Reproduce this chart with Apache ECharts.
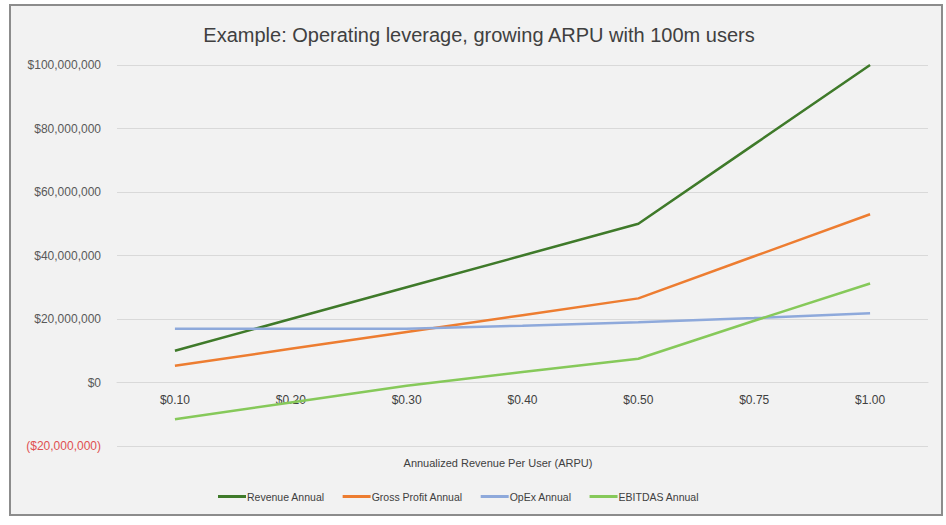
<!DOCTYPE html>
<html lang="en">
<head>
    <meta charset="UTF-8">
    <title>Operating leverage</title>
    <script type="text/javascript" src="https://cdn.jsdelivr.net/npm/echarts@6/dist/echarts.min.js"></script>
    <style>
        html, body { margin: 0; padding: 0; background: #fff; }
        #chart { width: 946px; height: 525px; }
    </style>
</head>
<body>
<div id="chart"></div>
<script>
    // ARPU categories on the x axis
    var arpu = ['$0.10', '$0.20', '$0.30', '$0.40', '$0.50', '$0.75', '$1.00'];
    // annual values in dollars
    var revenue = [10000000, 20000000, 30000000, 40000000, 50000000, 75000000, 100000000];
    var grossProfit = [5300000, 10600000, 15900000, 21200000, 26500000, 39750000, 53000000];
    var opex = [16900000, 16900000, 16900000, 17900000, 19000000, 20300000, 21800000];
    var ebitdas = [-11600000, -6300000, -1000000, 3300000, 7500000, 19450000, 31200000];
    var seriesNames = ['Revenue Annual', 'Gross Profit Annual', 'OpEx Annual', 'EBITDAS Annual'];

    var font = 'Liberation Sans';

    function money(v) {
        var s = '$' + Math.abs(v).toString().replace(/\B(?=(\d{3})+(?!\d))/g, ',');
        return v < 0 ? '(' + s + ')' : s;
    }

    var chart = echarts.init(document.getElementById('chart'), null, {renderer: 'svg'});
    chart.setOption({
        backgroundColor: '#fff',
        animation: false,
        graphic: [{
            type: 'rect',
            z: -10,
            shape: {x: 10, y: 5, width: 932, height: 510},
            style: {fill: '#f2f2f2', stroke: '#8c8c8c', lineWidth: 2}
        }],
        title: [{
            text: 'Example: Operating leverage, growing ARPU with 100m users',
            left: 474,
            top: 20,
            textAlign: 'center',
            textStyle: {fontFamily: font, fontSize: 20, fontWeight: 'normal', color: '#404040'}
        }, {
            text: 'Annualized Revenue Per User (ARPU)',
            left: 493,
            top: 452,
            textAlign: 'center',
            textStyle: {fontFamily: font, fontSize: 11, fontWeight: 'normal', color: '#404040'}
        }],
        legend: {
            data: seriesNames,
            left: 213,
            top: 486,
            icon: 'rect',
            itemWidth: 28,
            itemHeight: 3,
            itemGap: 18,
            textStyle: {fontFamily: font, fontSize: 10.5, color: '#404040', padding: [0, 0, 0, -4]}
        },
        grid: {left: 117, right: 18, top: 65, bottom: 79, containLabel: false},
        xAxis: {
            type: 'category',
            data: arpu,
            boundaryGap: true,
            // category labels sit just under the $0 line
            offset: -63.5,
            axisLine: {onZero: false, lineStyle: {color: '#d9d9d9'}},
            axisTick: {show: false},
            axisLabel: {fontFamily: font, fontSize: 12, color: '#404040', margin: 11}
        },
        yAxis: {
            type: 'value',
            min: -20000000,
            max: 100000000,
            interval: 20000000,
            axisLine: {show: false},
            axisTick: {show: false},
            splitLine: {lineStyle: {color: '#d9d9d9', width: 1}},
            axisLabel: {
                fontFamily: font,
                fontSize: 12,
                margin: 16,
                color: function (v) { return v < 0 ? '#e05050' : '#595959'; },
                formatter: money
            }
        },
        series: [
            {name: seriesNames[0], type: 'line', data: revenue, symbol: 'none', lineStyle: {width: 2.5, color: '#3f7a2a'}, itemStyle: {color: '#3f7a2a'}},
            {name: seriesNames[1], type: 'line', data: grossProfit, symbol: 'none', lineStyle: {width: 2.5, color: '#ed7d31'}, itemStyle: {color: '#ed7d31'}},
            {name: seriesNames[2], type: 'line', data: opex, symbol: 'none', lineStyle: {width: 2.5, color: '#8ea9db'}, itemStyle: {color: '#8ea9db'}},
            {name: seriesNames[3], type: 'line', data: ebitdas, symbol: 'none', lineStyle: {width: 2.5, color: '#86c95a'}, itemStyle: {color: '#86c95a'}}
        ]
    });
</script>
</body>
</html>
